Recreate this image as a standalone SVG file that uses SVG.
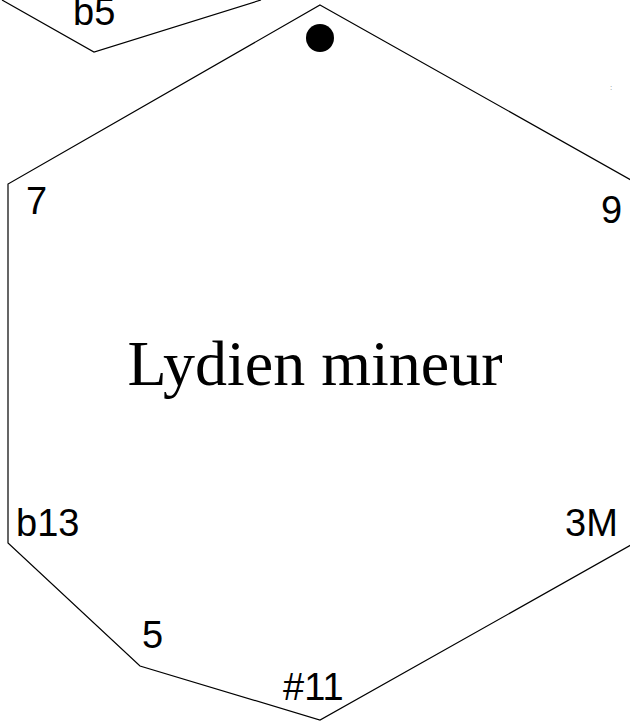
<svg xmlns="http://www.w3.org/2000/svg" width="630" height="722" viewBox="0 0 630 722">
<style>
.ln{fill:none;stroke:#000;stroke-width:1.2}
.lbl{font-family:"Liberation Sans",Arial,sans-serif;font-size:38px;fill:#000}
.title{font-family:"Liberation Serif","Times New Roman",serif;font-size:64px;fill:#000}
</style>
<rect width="630" height="722" fill="#fff"/>
<g id="shapes">
<polyline class="ln" points="2,0 94,52 261,0"/>
<polygon class="ln" points="320,5 631,180 631,545 320,720 140,666 8,543 8,184"/>
<circle cx="320" cy="38" r="14" fill="#000"/>
</g>
<g id="labels">
<text class="lbl" x="73" y="25">b5</text>
<text class="lbl" x="26" y="214">7</text>
<text class="lbl" x="601" y="223">9</text>
<text class="lbl" x="565" y="536">3M</text>
<text class="lbl" x="16" y="536">b13</text>
<text class="lbl" x="142" y="648">5</text>
<text class="lbl" x="283" y="700">#11</text>
<text x="610" y="90" font-family="Liberation Sans,sans-serif" font-size="8" fill="#888">:</text>
</g>
<g id="title">
<text class="title" x="315" y="385" text-anchor="middle">Lydien mineur</text>
</g>
</svg>
